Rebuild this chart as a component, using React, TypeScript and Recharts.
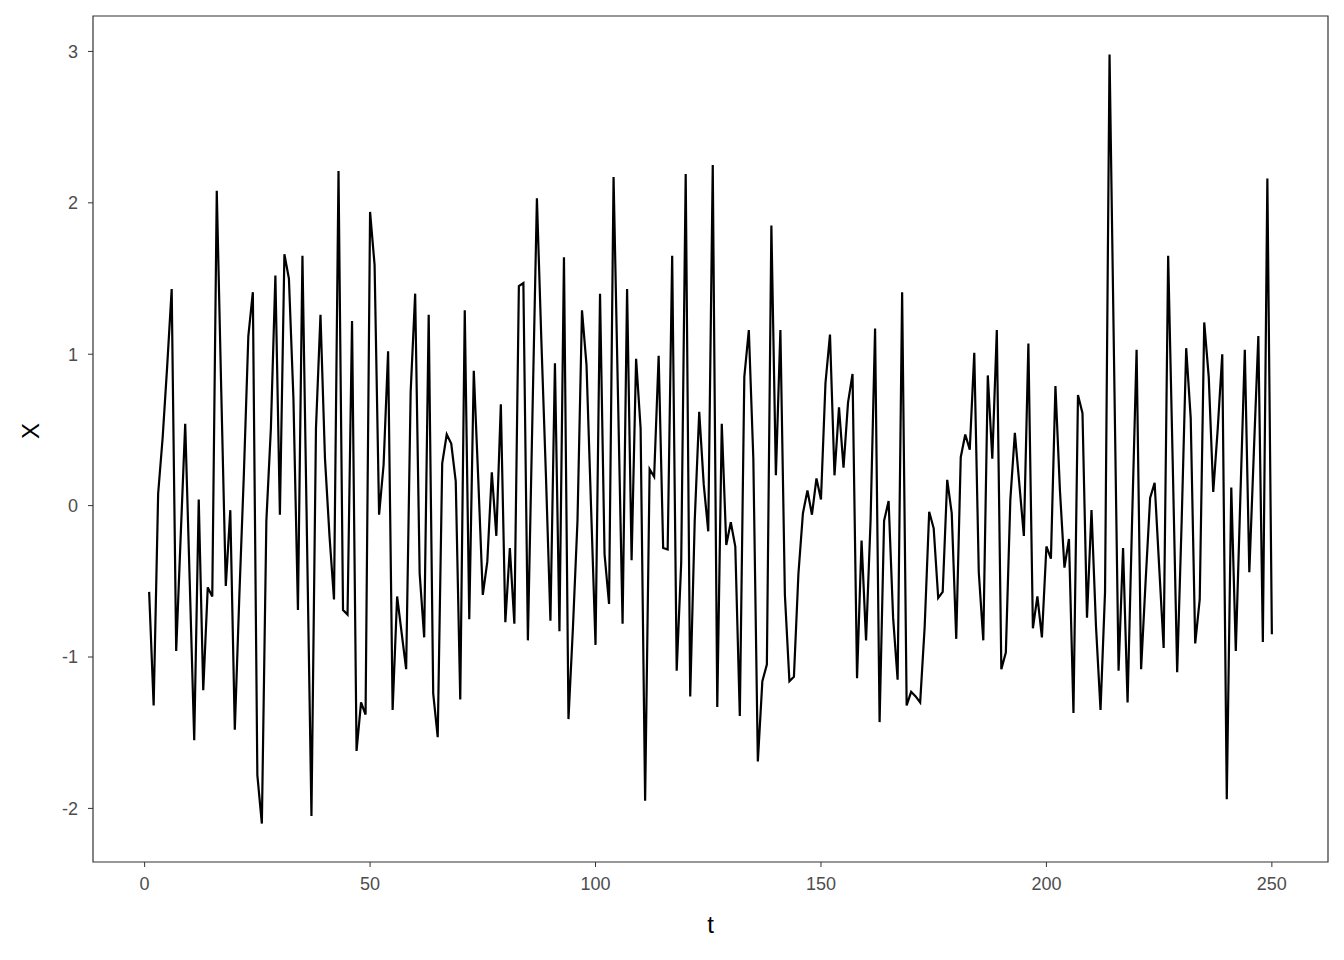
import { Line, LineChart, ReferenceArea, XAxis, YAxis } from 'recharts';

// simulated series X (t = 1..250)
const xSeries = [
  -0.57, -1.32, 0.08, 0.45, 0.92, 1.43, -0.96, -0.2, 0.54, -0.5,
  -1.55, 0.04, -1.22, -0.54, -0.6, 2.08, 0.75, -0.53, -0.03, -1.48,
  -0.6, 0.2, 1.12, 1.41, -1.78, -2.1, -0.1, 0.51, 1.52, -0.06,
  1.66, 1.5, 0.71, -0.69, 1.65, -0.2, -2.05, 0.51, 1.26, 0.31,
  -0.2, -0.62, 2.21, -0.69, -0.72, 1.22, -1.62, -1.3, -1.38, 1.94,
  1.59, -0.06, 0.27, 1.02, -1.35, -0.6, -0.84, -1.08, 0.75, 1.4,
  -0.45, -0.87, 1.26, -1.24, -1.53, 0.28, 0.47, 0.41, 0.16, -1.28,
  1.29, -0.75, 0.89, 0.17, -0.59, -0.37, 0.22, -0.2, 0.67, -0.77,
  -0.28, -0.78, 1.45, 1.47, -0.89, 0.58, 2.03, 1.08, 0.2, -0.76,
  0.94, -0.83, 1.64, -1.41, -0.8, -0.1, 1.29, 0.93, 0.0, -0.92,
  1.4, -0.32, -0.65, 2.17, 0.7, -0.78, 1.43, -0.36, 0.97, 0.51,
  -1.95, 0.24, 0.19, 0.99, -0.28, -0.29, 1.65, -1.09, -0.38, 2.19,
  -1.26, -0.1, 0.62, 0.14, -0.17, 2.25, -1.33, 0.54, -0.26, -0.11,
  -0.27, -1.39, 0.85, 1.16, 0.31, -1.69, -1.16, -1.05, 1.85, 0.2,
  1.16, -0.59, -1.16, -1.13, -0.45, -0.05, 0.1, -0.06, 0.18, 0.04,
  0.81, 1.13, 0.2, 0.65, 0.25, 0.68, 0.87, -1.14, -0.23, -0.89,
  -0.1, 1.17, -1.43, -0.1, 0.03, -0.74, -1.15, 1.41, -1.32, -1.23,
  -1.26, -1.3, -0.8, -0.04, -0.15, -0.61, -0.57, 0.17, -0.05, -0.88,
  0.32, 0.47, 0.37, 1.01, -0.44, -0.89, 0.86, 0.31, 1.16, -1.08,
  -0.97, 0.04, 0.48, 0.14, -0.2, 1.07, -0.81, -0.6, -0.87, -0.27,
  -0.35, 0.79, 0.1, -0.41, -0.22, -1.37, 0.73, 0.61, -0.74, -0.03,
  -0.8, -1.35, -0.57, 2.98, 0.95, -1.09, -0.28, -1.3, -0.1, 1.03,
  -1.08, -0.5, 0.05, 0.15, -0.4, -0.94, 1.65, 0.3, -1.1, -0.1,
  1.04, 0.58, -0.91, -0.62, 1.21, 0.85, 0.09, 0.51, 1.0, -1.94,
  0.12, -0.96, 0.04, 1.03, -0.44, 0.35, 1.12, -0.9, 2.16, -0.85,
];

const tTicks = [0, 50, 100, 150, 200, 250];
const xTicks = [-2, -1, 0, 1, 2, 3];

// ggplot-style 5% expansion around the data range
const tDomain: [number, number] = [-11.45, 262.45];
const xDomain: [number, number] = [-2.354, 3.234];

const data = xSeries.map((value, i) => ({ t: i + 1, X: value }));

const tickStyle = { fill: '#4d4d4d', fontSize: 18, fontFamily: 'Liberation Sans, Arial, sans-serif' };

export default function App() {
  return (
    <LineChart
      width={1336}
      height={944}
      data={data}
      margin={{ top: 8, right: 16, bottom: 0, left: 0 }}
      style={{ fontFamily: 'Liberation Sans, Arial, sans-serif', background: '#fff' }}
    >
      <XAxis
        dataKey="t"
        type="number"
        domain={tDomain}
        ticks={tTicks}
        height={90}
        axisLine={false}
        tickLine={{ stroke: '#333333', strokeWidth: 1 }}
        tickSize={5}
        tickMargin={10}
        tick={tickStyle}
        label={{ value: 't', position: 'insideBottom', offset: 19, fill: '#000', fontSize: 24 }}
      />
      <YAxis
        type="number"
        domain={xDomain}
        ticks={xTicks}
        width={85}
        axisLine={false}
        tickLine={{ stroke: '#333333', strokeWidth: 1 }}
        tickSize={5}
        tickMargin={10}
        tick={tickStyle}
        label={{ value: 'X', angle: -90, position: 'insideLeft', offset: 22, fill: '#000', fontSize: 24 }}
      />
      <ReferenceArea
        x1={tDomain[0]}
        x2={tDomain[1]}
        y1={xDomain[0]}
        y2={xDomain[1]}
        fill="none"
        stroke="#333333"
        strokeWidth={1.2}
      />
      <Line
        type="linear"
        dataKey="X"
        stroke="#000"
        strokeWidth={2.2}
        dot={false}
        isAnimationActive={false}
      />
    </LineChart>
  );
}
